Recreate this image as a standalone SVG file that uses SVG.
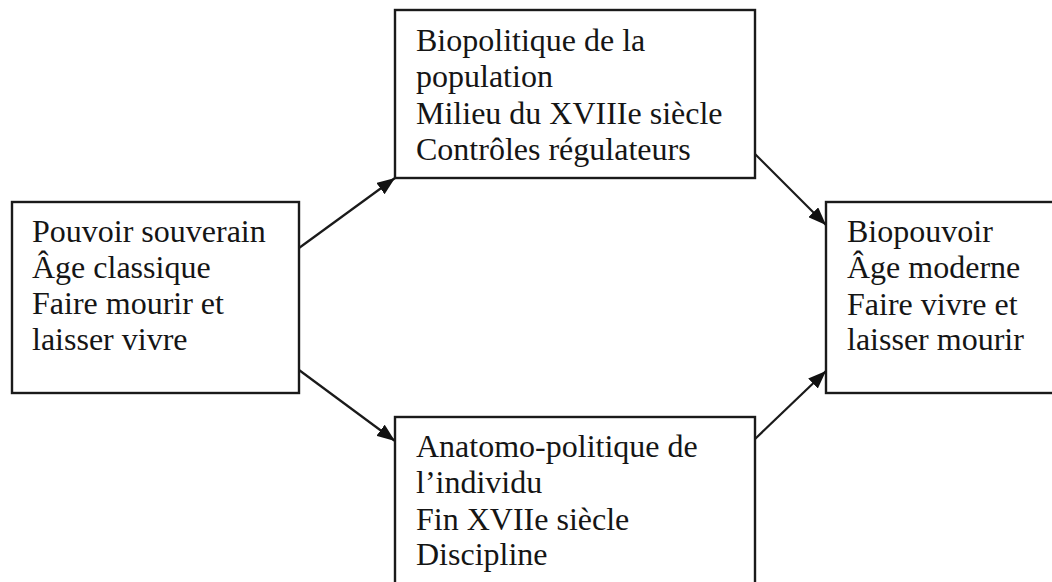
<svg xmlns="http://www.w3.org/2000/svg" width="1052" height="582" viewBox="0 0 1052 582">
<style>
.box{fill:#fff;stroke:#1a1a1a;stroke-width:2.4}
.t{font-family:"Liberation Serif","Times New Roman",serif;font-size:32px;fill:#151515}
.c{stroke:#1a1a1a;stroke-width:2.2;fill:none}
</style>
<defs>
<marker id="ah" viewBox="0 0 18 14" refX="18" refY="7" markerWidth="18" markerHeight="14" markerUnits="userSpaceOnUse" orient="auto">
<path d="M0,0 L18,7 L0,14 Z" fill="#111"/>
</marker>
</defs>
<rect width="1052" height="582" fill="#fff"/>
<g id="n-souverain">
<rect class="box" x="12" y="202" width="287" height="191"/>
<text class="t" x="32" y="242">Pouvoir souverain</text>
<text class="t" x="32" y="278">Âge classique</text>
<text class="t" x="32" y="314">Faire mourir et</text>
<text class="t" x="32" y="350">laisser vivre</text>
</g>
<g id="n-biopolitique">
<rect class="box" x="395" y="10" width="360" height="168"/>
<text class="t" x="416" y="51">Biopolitique de la</text>
<text class="t" x="416" y="87">population</text>
<text class="t" x="416" y="124">Milieu du XVIIIe siècle</text>
<text class="t" x="416" y="160">Contrôles régulateurs</text>
</g>
<g id="n-anatomo">
<rect class="box" x="395" y="417" width="360" height="180"/>
<text class="t" x="416" y="457">Anatomo-politique de</text>
<text class="t" x="416" y="493">l’individu</text>
<text class="t" x="416" y="530">Fin XVIIe siècle</text>
<text class="t" x="416" y="565">Discipline</text>
</g>
<g id="n-biopouvoir">
<rect class="box" x="826" y="202" width="240" height="191"/>
<text class="t" x="847" y="242">Biopouvoir</text>
<text class="t" x="847" y="278">Âge moderne</text>
<text class="t" x="847" y="315">Faire vivre et</text>
<text class="t" x="847" y="350">laisser mourir</text>
</g>
<g id="connectors">
<line class="c" x1="299" y1="248" x2="395" y2="178" marker-end="url(#ah)"/>
<line class="c" x1="299" y1="370" x2="395" y2="441" marker-end="url(#ah)"/>
<line class="c" x1="755" y1="154" x2="826" y2="225" marker-end="url(#ah)"/>
<line class="c" x1="755" y1="439" x2="826" y2="371" marker-end="url(#ah)"/>
</g>
</svg>
